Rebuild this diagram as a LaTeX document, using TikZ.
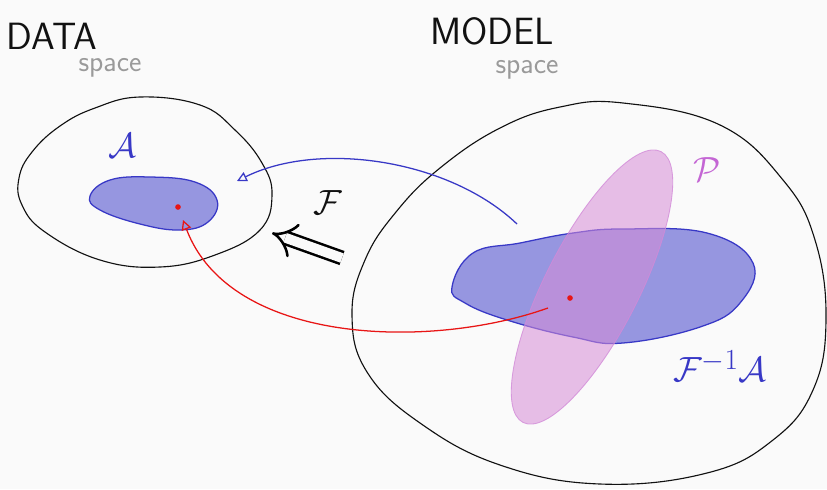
\documentclass[tikz,border=0pt]{standalone}
\usepackage{amsmath}
\usepackage{tikz}
\usetikzlibrary{arrows.meta, positioning, calc}
\definecolor{cBg}      {HTML}{FAFAFA}
\definecolor{cInk}     {HTML}{111111}
\definecolor{cBlue}    {HTML}{3838C6}
\definecolor{cBlueFill}{HTML}{9696E0}
\definecolor{cPink}    {HTML}{D68CD6}
\definecolor{cPinkLine}{HTML}{D28AD8}
\definecolor{cPinkText}{HTML}{C466D4}
\definecolor{cRed}     {HTML}{E81515}
\definecolor{cGrey}    {HTML}{9A9A9A}

\begin{document}
\begin{tikzpicture}[
  x=0.025cm, y=-0.025cm,
  space/.style={draw=cInk, line width=0.8pt},
  blob/.style={draw=cBlue, fill=cBlueFill, line width=0.9pt},
  prior/.style={draw=cPinkLine, fill=cPink, fill opacity=0.55,
    draw opacity=0.8, line width=0.6pt},
  arr/.style={-{Triangle[open,length=7pt,width=7pt]}, line width=0.9pt,
    color=#1},
  ttl/.style={font=\sffamily\fontsize{27}{27}\selectfont, text=cInk,
    inner sep=0pt},
  sub/.style={font=\sffamily\fontsize{21}{21}\selectfont, text=cGrey,
    inner sep=0pt},
  sym/.style 2 args={font=\fontsize{#1}{#1}\selectfont, text=#2,
    inner sep=0pt},
  dot/.style={circle, fill=cRed, inner sep=0pt, minimum size=4pt},
]

%% ── canvas ───────────────────────────────────────────────────────────
\path[use as bounding box, fill=cBg] (0,0) rectangle (827,489);

%% ── titles ───────────────────────────────────────────────────────────
\node[ttl] (data) at (52,36) {DATA};
\node[sub] (dataspc) at (110,68) {space};
\node[ttl] (model) at (492,31) {MODEL};
\node[sub] (modelspc) at (527,70) {space};

%% ── data space ───────────────────────────────────────────────────────
\draw[space] plot[smooth cycle, tension=0.7] coordinates {
  (32,152) (60,126) (95,108) (140,97) (200,105) (235,130) (262,163)
  (272,195) (260,230) (215,255) (160,267) (100,260) (45,232) (22,205)
  (19,178)};
\draw[blob] plot[smooth cycle, tension=0.7] coordinates {
  (90,196) (110,180) (150,177) (195,182) (217,200) (208,222) (180,230)
  (140,224) (100,210)};
\node[sym={36}{cBlue}] (lblA) at (122,146) {$\mathcal{A}$};

%% ── model space ──────────────────────────────────────────────────────
\draw[space] plot[smooth cycle, tension=0.7] coordinates {
  (440,168) (500,128) (560,107) (623,103) (720,125) (783,180) (815,240)
  (826,320) (813,390) (773,440) (707,473) (600,484) (500,465) (420,423)
  (367,372) (352,315) (365,260) (396,212)};
\draw[blob] plot[smooth cycle, tension=0.7] coordinates {
  (452,287) (473,253) (520,243) (573,233) (623,229) (707,233) (753,263)
  (740,303) (700,327) (623,343) (573,337) (507,320) (465,303)};
\path[prior, rotate around={63:(592,287)}]
  (592,287) ellipse [x radius=152, y radius=47];
\node[sym={34}{cPinkText}] (lblP) at (707,170) {$\mathcal{P}$};
\node[sym={30}{cBlue}] (lblFA) at (720,366) {$\mathcal{F}^{-1}\mathcal{A}$};

%% ── points ───────────────────────────────────────────────────────────
\node[dot] (ptA) at (178,207) {};
\node[dot] (ptM) at (570,298) {};

%% ── maps ─────────────────────────────────────────────────────────────
\coordinate (bluestart) at (517,224);
\coordinate (bluetip) at (237,181);
\draw[arr=cBlue] (bluestart) .. controls (450,160) and (320,140) .. (bluetip);

\coordinate (redstart) at (548,308);
\coordinate (redtip) at (183,220);
\draw[arr=cRed] (redstart) .. controls (430,350) and (230,345) .. (redtip);

% forward map F, drawn as a hollow double arrow
\coordinate (fwdfrom) at (342,258);
\coordinate (fwdto) at (272,233);
\draw[line width=1.8pt, double=cBg, double distance=7pt, -{Implies}]
  (fwdfrom) -- (fwdto);
\node[sym={28}{cInk}] (lblF) at (328,203) {$\mathcal{F}$};

\end{tikzpicture}
\end{document}
